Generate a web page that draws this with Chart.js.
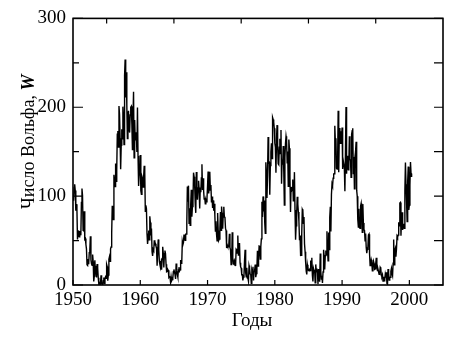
<!DOCTYPE html>
<html>
<head>
<meta charset="utf-8">
<script src="https://cdn.jsdelivr.net/npm/chart.js@4"></script>
<style>
  html, body { margin: 0; padding: 0; background: #fff; }
  #wrap { width: 476px; height: 337px; position: relative; }
</style>
</head>
<body>
<div id="wrap"><canvas id="chart"></canvas></div>
<script>
// Monthly Wolf numbers, Jan 1950 .. May 2000

const startYear = 1950;

const w1950s = [
    101.6, 94.8, 109.7, 113.4, 106.2, 83.6, 91.0, 85.2, 51.3, 61.4, 54.8, 54.1,
    59.9, 59.9, 55.9, 92.9, 108.5, 100.6, 61.5, 61.0, 83.1, 51.6, 52.4, 45.8,
    40.7, 22.7, 22.0, 29.1, 23.4, 36.4, 39.3, 54.9, 28.2, 23.8, 22.1, 34.3,
    26.5, 3.9, 10.0, 27.8, 12.5, 21.8, 8.6, 23.5, 19.3, 8.2, 1.6, 2.5,
    0.2, 0.5, 10.9, 1.8, 0.8, 0.2, 4.8, 8.4, 1.5, 7.0, 9.2, 7.6,
    23.1, 20.8, 4.9, 11.3, 28.9, 31.7, 26.7, 40.7, 42.7, 58.5, 89.2, 76.9,
    73.6, 124.0, 118.4, 110.7, 136.6, 116.6, 129.1, 169.6, 173.2, 155.3, 201.3, 192.1,
    165.0, 130.2, 157.4, 175.2, 164.6, 200.7, 187.2, 158.0, 235.8, 253.8, 210.9, 239.4,
    202.5, 164.9, 190.7, 196.0, 175.3, 171.5, 191.4, 200.2, 201.2, 181.5, 152.3, 187.6,
    217.4, 143.1, 185.7, 163.3, 172.0, 168.7, 149.6, 199.6, 145.2, 111.4, 124.0, 125.0
];

const w1960s = [
    146.3, 106.0, 102.2, 122.0, 119.6, 110.2, 121.7, 134.1, 127.2, 82.8, 89.6, 85.6,
    57.9, 46.1, 53.0, 61.4, 51.0, 77.4, 70.2, 55.8, 63.6, 37.7, 32.6, 40.0,
    38.7, 50.3, 45.6, 46.4, 43.7, 42.0, 21.8, 21.8, 51.3, 39.5, 26.9, 23.2,
    19.8, 24.4, 17.1, 29.3, 43.0, 35.9, 19.6, 33.2, 38.8, 35.3, 23.4, 14.9,
    15.3, 17.7, 16.5, 8.6, 9.5, 9.1, 3.1, 9.3, 4.7, 6.1, 7.4, 15.1,
    17.5, 14.2, 11.7, 6.8, 24.1, 15.9, 11.9, 8.9, 16.8, 20.1, 15.8, 17.0,
    28.2, 24.4, 25.3, 48.7, 45.3, 47.7, 56.7, 51.2, 50.2, 57.2, 57.2, 70.4,
    110.9, 93.6, 111.8, 69.5, 86.5, 67.3, 91.5, 107.2, 76.8, 88.2, 94.3, 126.4,
    121.8, 111.9, 92.2, 81.2, 127.2, 110.3, 96.1, 109.3, 117.2, 107.7, 86.0, 109.8,
    104.4, 120.5, 135.8, 106.8, 120.0, 106.0, 96.8, 98.0, 91.3, 95.7, 93.5, 97.9
];

const w1970s = [
    111.5, 127.8, 102.9, 109.5, 127.5, 106.8, 112.5, 93.0, 99.5, 86.6, 95.2, 83.5,
    91.3, 79.0, 60.7, 71.8, 57.5, 49.8, 81.0, 61.4, 50.2, 51.7, 63.2, 82.2,
    61.5, 88.4, 80.1, 63.2, 80.5, 88.0, 76.5, 76.8, 64.0, 61.3, 41.6, 45.3,
    43.4, 42.9, 46.0, 57.7, 42.4, 39.5, 23.1, 25.6, 59.3, 30.7, 23.9, 23.3,
    27.6, 26.0, 21.3, 40.3, 39.5, 36.0, 55.8, 33.6, 40.2, 47.1, 25.0, 20.5,
    18.9, 11.5, 11.5, 5.1, 9.0, 11.4, 28.2, 39.7, 13.9, 9.1, 19.4, 7.8,
    8.1, 4.3, 21.9, 18.8, 12.4, 12.2, 1.9, 16.4, 13.5, 20.6, 5.2, 15.3,
    16.4, 23.1, 8.7, 12.9, 18.6, 38.5, 21.4, 30.1, 44.0, 43.8, 29.1, 43.2,
    51.9, 93.6, 76.5, 99.7, 82.7, 95.1, 70.4, 58.1, 138.2, 125.1, 97.9, 122.7,
    166.6, 137.5, 138.0, 101.5, 134.4, 149.5, 159.4, 142.2, 188.4, 186.2, 183.3, 176.3
];

const w1980s = [
    159.6, 155.0, 126.2, 164.1, 179.9, 157.3, 136.3, 135.4, 155.0, 164.7, 147.9, 174.4,
    114.0, 141.3, 135.5, 156.4, 127.5, 90.0, 143.8, 158.7, 167.3, 162.4, 137.5, 150.1,
    111.2, 163.6, 153.8, 122.0, 82.2, 110.4, 106.1, 107.6, 118.8, 94.7, 98.1, 127.0,
    84.3, 51.0, 66.5, 80.7, 99.2, 91.1, 82.2, 71.8, 50.3, 55.8, 33.3, 33.4,
    57.0, 85.1, 83.5, 69.4, 76.4, 46.1, 37.4, 25.5, 15.7, 12.0, 22.8, 18.7,
    16.5, 15.9, 17.2, 16.2, 27.5, 24.2, 30.7, 11.1, 3.9, 18.6, 16.2, 17.3,
    2.5, 23.2, 15.1, 18.5, 13.7, 1.1, 18.1, 7.4, 3.8, 35.4, 15.2, 6.8,
    10.4, 2.4, 14.7, 39.6, 33.0, 17.4, 33.0, 38.7, 33.9, 60.6, 39.9, 27.1,
    59.0, 40.0, 76.2, 88.0, 60.1, 101.8, 113.8, 111.6, 120.1, 125.1, 125.1, 179.2,
    161.3, 165.1, 131.4, 130.6, 138.5, 196.2, 126.9, 168.9, 176.7, 159.4, 173.0, 165.5
];

const w1990s = [
    177.3, 130.5, 140.3, 140.3, 132.2, 105.4, 149.4, 200.3, 125.2, 145.5, 131.4, 129.7,
    136.9, 167.5, 141.9, 140.0, 121.3, 169.7, 173.7, 176.3, 125.3, 144.1, 108.2, 144.4,
    150.0, 161.1, 106.7, 99.8, 73.8, 65.2, 85.7, 64.5, 63.9, 88.7, 91.8, 82.6,
    59.3, 91.0, 69.8, 62.2, 61.3, 49.8, 57.9, 42.4, 35.8, 40.2, 42.3, 56.2,
    57.2, 35.1, 22.0, 24.2, 28.4, 25.7, 15.9, 21.8, 26.8, 24.3, 17.6, 18.1,
    23.8, 30.6, 22.8, 16.3, 18.0, 15.1, 12.1, 13.4, 19.9, 18.7, 10.3, 9.5,
    11.5, 4.4, 9.2, 4.8, 5.5, 11.8, 8.2, 14.4, 1.6, 0.9, 17.9, 13.3,
    5.7, 7.6, 8.7, 15.5, 18.5, 12.7, 10.4, 24.4, 51.3, 22.8, 39.0, 41.2,
    31.9, 40.3, 54.8, 53.4, 56.3, 70.7, 66.6, 92.2, 92.9, 55.5, 74.0, 81.9,
    62.0, 66.3, 68.8, 63.7, 106.4, 137.7, 113.5, 93.7, 71.5, 116.7, 133.2, 84.6
];

const w2000s = [90.1, 112.9, 138.5, 125.5, 121.6];

// Axis ticks
const xTicks = [1950, 1960, 1970, 1980, 1990, 2000];
const xMinorTicks = [1955, 1965, 1975, 1985, 1995];
const yTicks = [0, 100, 200, 300];
const yMinorTicks = [50, 150, 250];

const xTitle = 'Годы';
const yTitle = 'Число Вольфа, ';
const yTitleSymbol = 'W';

const FONT = '"Liberation Serif", "DejaVu Serif", serif';

// Join decades into one monthly series
const monthly = [].concat(w1950s, w1960s, w1970s, w1980s, w1990s, w2000s);
const points = monthly.map((v, i) => ({ x: startYear + i / 12, y: v }));

// Frame, inward tick marks and axis titles
const framePlugin = {
    id: 'frame',
    afterDraw(chart) {
        const { ctx, chartArea: a, scales: { x, y } } = chart;
        ctx.save();
        ctx.strokeStyle = '#000';
        ctx.lineWidth = 1.6;
        ctx.strokeRect(a.left, a.top, a.right - a.left, a.bottom - a.top);

        ctx.lineWidth = 1.2;
        ctx.beginPath();
        yTicks.forEach(v => {
            const py = y.getPixelForValue(v);
            ctx.moveTo(a.left, py); ctx.lineTo(a.left + 10, py);
            ctx.moveTo(a.right, py); ctx.lineTo(a.right - 9, py);
        });
        yMinorTicks.forEach(v => {
            const py = y.getPixelForValue(v);
            ctx.moveTo(a.left, py); ctx.lineTo(a.left + 6, py);
            ctx.moveTo(a.right, py); ctx.lineTo(a.right - 9, py);
        });
        xTicks.forEach(v => {
            const px = x.getPixelForValue(v);
            ctx.moveTo(px, a.bottom); ctx.lineTo(px, a.bottom - 5);
        });
        xMinorTicks.forEach(v => {
            const px = x.getPixelForValue(v);
            ctx.moveTo(px, a.top); ctx.lineTo(px, a.top + 5);
        });
        ctx.stroke();

        // x title
        ctx.fillStyle = '#000';
        ctx.font = '19px ' + FONT;
        ctx.textAlign = 'center';
        ctx.textBaseline = 'alphabetic';
        ctx.fillText(xTitle, (a.left + a.right) / 2 - 6, a.bottom + 41);

        // y title, rotated, with bold italic W
        ctx.translate(a.left - 44, (a.top + a.bottom) / 2 - 10);
        ctx.rotate(-Math.PI / 2);
        ctx.font = '18px ' + FONT;
        const w1 = ctx.measureText(yTitle).width;
        ctx.font = 'italic bold 18px ' + FONT;
        const w2 = ctx.measureText(yTitleSymbol).width;
        const sx = -(w1 + w2) / 2;
        ctx.textAlign = 'left';
        ctx.textBaseline = 'middle';
        ctx.font = '18px ' + FONT;
        ctx.fillText(yTitle, sx, 0);
        ctx.font = 'italic bold 18px ' + FONT;
        ctx.fillText(yTitleSymbol, sx + w1, 0);
        ctx.restore();
    }
};

const ctx = document.getElementById('chart').getContext('2d');

new Chart(ctx, {
    type: 'line',
    data: {
        datasets: [
            {
                data: points,
                borderColor: '#000',
                borderWidth: 1.4,
                pointRadius: 0,
                tension: 0,
                fill: false
            }
        ]
    },
    options: {
        responsive: true,
        maintainAspectRatio: false,
        animation: false,
        layout: {
            padding: { left: 0, right: 33, top: 16, bottom: 0 }
        },
        plugins: {
            legend: { display: false },
            tooltip: { enabled: false }
        },
        scales: {
            x: {
                type: 'linear',
                min: 1950,
                max: 2005,
                grid: { display: false, drawTicks: false },
                border: { display: false },
                afterBuildTicks: scale => {
                    scale.ticks = xTicks.map(v => ({ value: v }));
                },
                afterFit: scale => { scale.height = 52; },
                ticks: {
                    padding: 4,
                    maxRotation: 0,
                    autoSkip: false,
                    color: '#000',
                    font: { family: FONT, size: 19 },
                    callback: v => String(v)
                }
            },
            y: {
                min: 0,
                max: 300,
                grid: { display: false, drawTicks: false },
                border: { display: false },
                afterBuildTicks: scale => {
                    scale.ticks = yTicks.map(v => ({ value: v }));
                },
                afterFit: scale => { scale.width = 73; },
                ticks: {
                    padding: 7,
                    color: '#000',
                    font: { family: FONT, size: 19 },
                    callback: v => String(v)
                }
            }
        }
    },
    plugins: [framePlugin]
});
</script>
</body>
</html>
